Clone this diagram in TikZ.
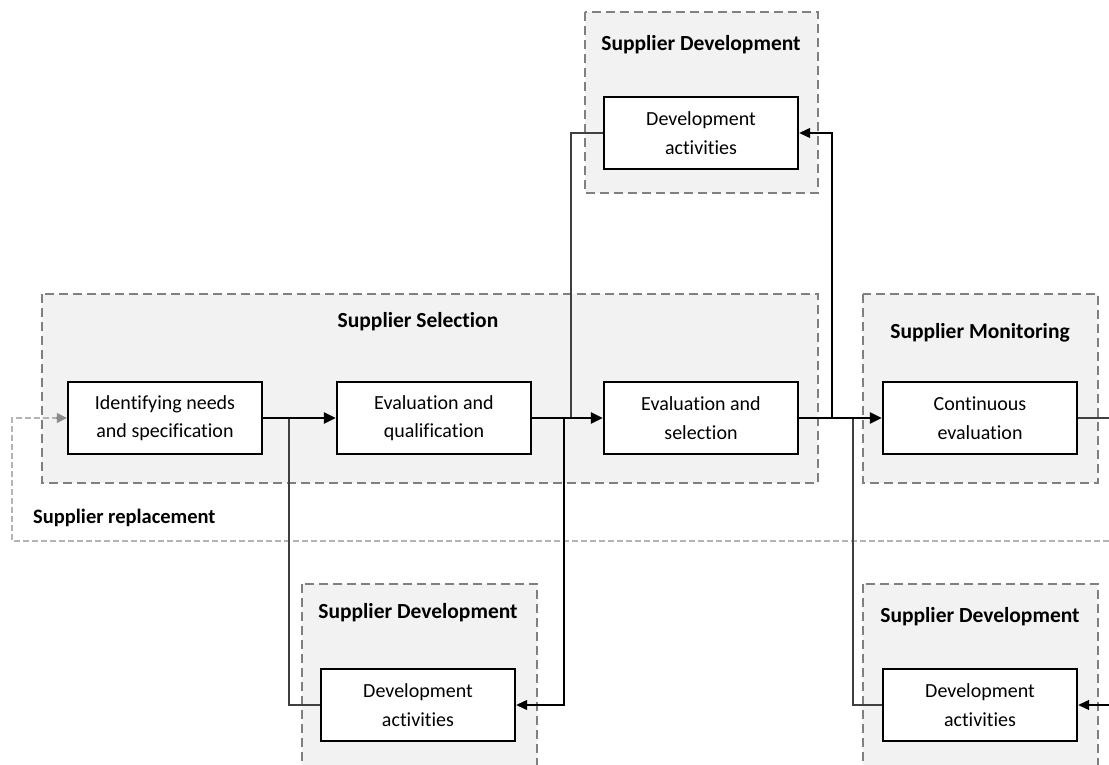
\documentclass[tikz,border=0pt]{standalone}
\usepackage{fontspec}
\setmainfont[Ligatures=NoCommon]{Carlito}
\usetikzlibrary{arrows.meta}
\definecolor{groupfill}{HTML}{F2F2F2}
\definecolor{groupline}{HTML}{808080}
\definecolor{replline}{HTML}{B4B4B4}
\begin{document}
\begin{tikzpicture}[x=1pt,y=-1pt,
  group/.style={draw=groupline, fill=groupfill, line width=2pt, dash pattern=on 9pt off 5pt},
  gtitle/.style={font=\fontsize{21.5}{24}\selectfont\bfseries, anchor=center},
  stepbox/.style={draw=black, fill=white, line width=2.4pt, minimum width=194pt, minimum height=72pt,
    align=center, inner sep=0pt, font=\fontsize{20}{28.5}\selectfont},
  flow/.style={line width=2.4pt, -{Triangle[length=12pt,width=11pt]}},
  link/.style={line width=1.1pt, draw=black!75},
  linkarrow/.style={link, -{Triangle[length=11pt,width=10pt]}, draw=black},
  repl/.style={draw=replline, line width=1.5pt, dash pattern=on 6pt off 3pt}
]
\useasboundingbox (0,0) rectangle (1109,765);

% group frames
\draw[group] (585,12) rectangle (818,193);
\draw[group] (42,294) rectangle (818,483);
\draw[group] (863,294) rectangle (1098,483);
\draw[group] (302,584) rectangle (537,775);
\draw[group] (863,584) rectangle (1098,775);

% group titles
\node[gtitle] (tTop) at (701,45) {Supplier Development};
\node[gtitle] (tSel) at (418,322) {Supplier Selection};
\node[gtitle] (tMon) at (980,333) {Supplier Monitoring};
\node[gtitle] (tBL) at (418,613) {Supplier Development};
\node[gtitle] (tBR) at (980,617) {Supplier Development};
\node[font=\fontsize{20.5}{23}\selectfont\bfseries, anchor=west, inner sep=0pt] (tRep) at (33,518) {Supplier replacement};

% coordinates for the loose ends and junctions
\coordinate (jA) at (289,418);
\coordinate (jB) at (564,418);
\coordinate (jC) at (571,418);
\coordinate (jD) at (832,418);
\coordinate (jE) at (853,418);
\coordinate (outR) at (1109,418);
\coordinate (inBR) at (1109,705);
\coordinate (rStart) at (1109,541);
\coordinate (rCorner) at (12,541);

% replacement loop (drawn first, under the boxes)
\draw[repl] (rStart) -- (rCorner) -- (12,418) -- (58,418);

% process boxes
\node[stepbox] (b1) at (165,418) {Identifying needs\\and specification};
\node[stepbox] (b2) at (434,418) {Evaluation and\\qualification};
\node[stepbox] (b3) at (701,418) {Evaluation and\\selection};
\node[stepbox] (b4) at (980,418) {Continuous\\evaluation};
\node[stepbox] (dTop) at (701,133) {Development\\activities};
\node[stepbox] (dBL) at (418,705) {Development\\activities};
\node[stepbox] (dBR) at (980,705) {Development\\activities};

% replacement arrow head
\draw[repl, solid, -{Triangle[length=10pt,width=10pt]}, draw=black!45, fill=black!45] (56,418) -- (b1.west);

% links to development activities
\draw[link] (dTop.west) -| (jC);
\draw[linkarrow] (jD) |- (dTop.east);
\draw[link] (jA) |- (dBL.west);
\draw[linkarrow] (jB) |- (dBL.east);
\draw[link] (jE) |- (dBR.west);
\draw[linkarrow] (inBR) -- (dBR.east);
\draw[link] (b4.east) -- (outR);

% main flow
\draw[flow] (b1.east) -- (b2.west);
\draw[flow] (b2.east) -- (b3.west);
\draw[flow] (b3.east) -- (b4.west);
\end{tikzpicture}
\end{document}
